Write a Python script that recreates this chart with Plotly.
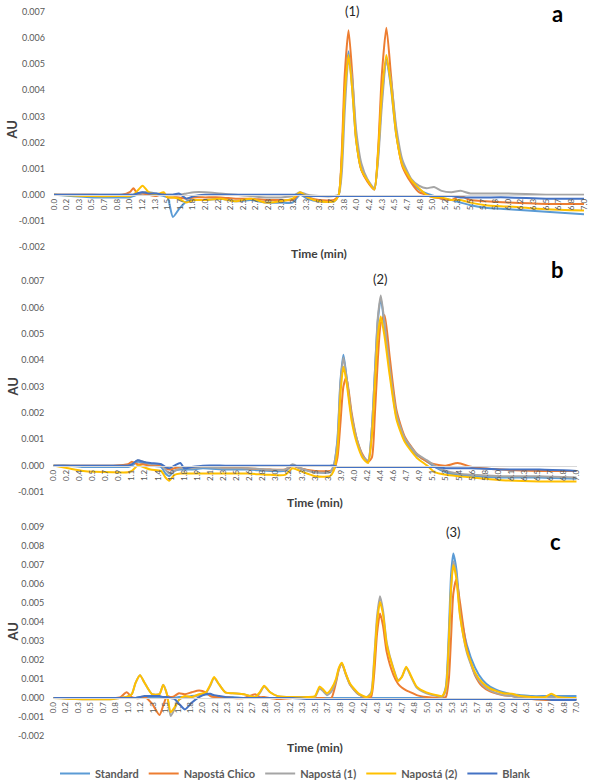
import plotly.graph_objects as go

W, H = 591, 781
FONT = "Lato, 'Open Sans', sans-serif"

series_names = ["Standard", "Napostá Chico", "Napostá (1)", "Napostá (2)", "Blank"]
series_colors = ["#5B9BD5", "#ED7D31", "#A5A5A5", "#FFC000", "#4472C4"]

# ---------------- x tick labels (category labels as printed) ----------------
xtick_labels_ac = ["0.0", "0.2", "0.3", "0.5", "0.7", "0.8", "1.0", "1.2", "1.3", "1.5", "1.7",
                   "1.8", "2.0", "2.2", "2.3", "2.5", "2.7", "2.8", "3.0", "3.2", "3.3", "3.5",
                   "3.7", "3.8", "4.0", "4.2", "4.3", "4.5", "4.7", "4.8", "5.0", "5.2", "5.3",
                   "5.5", "5.7", "5.8", "6.0", "6.2", "6.3", "6.5", "6.7", "6.8", "7.0"]
xtick_labels_b = ["0.0", "0.2", "0.4", "0.5", "0.7", "0.9", "1.1", "1.2", "1.4", "1.6", "1.8",
                  "1.9", "2.1", "2.3", "2.5", "2.6", "2.8", "3.0", "3.2", "3.3", "3.5", "3.7",
                  "3.9", "4.0", "4.2", "4.4", "4.6", "4.7", "4.9", "5.1", "5.3", "5.4", "5.6",
                  "5.8", "6.0", "6.1", "6.3", "6.5", "6.7", "6.8", "7.0"]

# ---------------- y ticks ----------------
ytick_vals_a = [-0.002, -0.001, 0.0, 0.001, 0.002, 0.003, 0.004, 0.005, 0.006, 0.007]
ytick_text_a = ["-0.002", "-0.001", "0.000", "0.001", "0.002", "0.003", "0.004", "0.005", "0.006", "0.007"]
ytick_vals_b = [-0.001, 0.0, 0.001, 0.002, 0.003, 0.004, 0.005, 0.006, 0.007]
ytick_text_b = ["-0.001", "0.000", "0.001", "0.002", "0.003", "0.004", "0.005", "0.006", "0.007"]
ytick_vals_c = [-0.002, -0.001, 0.0, 0.001, 0.002, 0.003, 0.004, 0.005, 0.006, 0.007, 0.008, 0.009]
ytick_text_c = ["-0.002", "-0.001", "0.000", "0.001", "0.002", "0.003", "0.004", "0.005", "0.006",
                "0.007", "0.008", "0.009"]

# ---------------- Panel a data (time in min, absorbance in mAU) ----------------
time_a = [0.0, 0.5, 0.9, 1.0, 1.05, 1.1, 1.17, 1.25, 1.35, 1.45,
          1.5, 1.57, 1.65, 1.75, 1.85, 2.0, 2.2, 2.4, 2.6, 2.8,
          3.0, 3.15, 3.25, 3.35, 3.5, 3.7, 3.76, 3.8, 3.84, 3.89,
          3.94, 3.99, 4.06, 4.14, 4.23, 4.28, 4.33, 4.39, 4.45, 4.52,
          4.6, 4.72, 4.82, 4.92, 5.02, 5.12, 5.25, 5.37, 5.5, 5.7,
          6.0, 6.5, 7.0]
a_standard = [0.0, -0.1, -0.1, -0.1, -0.05, 0.0, 0.05, 0.05, 0.0, -0.05,
              -0.1, -0.85, -0.55, -0.25, -0.2, -0.2, -0.15, -0.25, -0.2, -0.3,
              -0.3, -0.3, 0.0, -0.15, -0.25, -0.25, 0.0, 1.3, 3.9, 5.5,
              4.0, 2.1, 0.95, 0.55, 0.2, 1.5, 3.7, 5.2, 4.1, 2.3,
              1.2, 0.5, 0.2, 0.05, -0.05, -0.15, -0.2, -0.3, -0.4, -0.5,
              -0.55, -0.65, -0.75]
a_chico = [0.0, 0.0, 0.0, 0.1, 0.25, 0.05, 0.05, 0.0, -0.05, 0.05,
           -0.1, -0.1, -0.1, -0.15, -0.1, -0.1, -0.1, -0.15, -0.15, -0.2,
           -0.2, -0.2, 0.05, -0.1, -0.2, -0.2, 0.0, 1.6, 4.6, 6.3,
           4.6, 2.2, 0.95, 0.5, 0.2, 1.7, 4.6, 6.4, 4.6, 2.4,
           1.1, 0.45, 0.1, 0.0, -0.1, -0.15, -0.2, -0.05, -0.2, -0.25,
           -0.3, -0.35, -0.35]
a_n1 = [0.0, 0.0, 0.0, 0.0, 0.0, 0.05, 0.1, 0.1, 0.05, 0.0,
        0.0, 0.0, 0.0, 0.05, 0.1, 0.1, 0.05, 0.0, -0.05, -0.1,
        -0.1, -0.05, 0.1, 0.0, -0.05, -0.05, 0.0, 0.8, 3.2, 5.2,
        4.4, 2.5, 1.2, 0.6, 0.25, 1.3, 3.4, 5.1, 4.4, 2.6,
        1.35, 0.6, 0.35, 0.25, 0.3, 0.15, 0.1, 0.15, 0.05, 0.05,
        0.05, 0.0, 0.0]
a_n2 = [0.0, -0.05, -0.05, -0.05, 0.0, 0.15, 0.35, 0.1, 0.0, 0.1,
        -0.1, -0.1, -0.15, -0.3, -0.2, -0.2, -0.15, -0.25, -0.15, -0.3,
        -0.25, -0.15, 0.1, -0.1, -0.25, -0.25, 0.0, 1.3, 3.9, 5.35,
        4.0, 2.1, 0.95, 0.55, 0.2, 1.6, 3.9, 5.35, 4.2, 2.3,
        1.15, 0.55, 0.25, 0.0, -0.1, -0.1, -0.2, -0.2, -0.3, -0.4,
        -0.45, -0.55, -0.6]
a_blank = [0.0, 0.0, 0.0, 0.0, 0.0, 0.05, 0.1, 0.05, 0.05, 0.0,
           0.0, 0.0, 0.05, -0.15, -0.05, 0.0, 0.0, 0.0, 0.0, 0.0,
           0.0, 0.0, 0.0, -0.05, -0.05, -0.05, -0.05, -0.05, -0.05, -0.05,
           -0.05, -0.05, -0.05, -0.05, -0.05, -0.05, -0.05, -0.05, -0.05, -0.05,
           -0.05, -0.05, -0.05, -0.05, -0.05, -0.05, -0.05, -0.1, -0.1, -0.1,
           -0.1, -0.15, -0.15]

# ---------------- Panel b data ----------------
time_b = [0.0, 0.2, 0.4, 0.8, 1.0, 1.05, 1.13, 1.2, 1.3, 1.44,
          1.5, 1.55, 1.62, 1.7, 1.75, 1.85, 2.0, 2.3, 2.6, 2.9,
          3.1, 3.2, 3.3, 3.5, 3.7, 3.75, 3.8, 3.84, 3.88, 3.92,
          3.99, 4.06, 4.14, 4.21, 4.26, 4.3, 4.34, 4.38, 4.43, 4.5,
          4.59, 4.7, 4.86, 5.0, 5.1, 5.25, 5.41, 5.6, 6.0, 6.5,
          7.0]
b_standard = [0.0, 0.0, -0.05, -0.05, -0.05, 0.0, 0.15, 0.1, 0.0, -0.05,
              -0.3, -0.4, -0.2, -0.15, -0.15, -0.15, -0.1, -0.15, -0.15, -0.2,
              -0.2, 0.0, -0.1, -0.25, -0.25, 0.0, 1.0, 3.2, 4.2, 3.4,
              1.85, 0.95, 0.32, 0.15, 1.4, 3.5, 5.5, 6.35, 5.3, 3.6,
              1.85, 0.95, 0.4, 0.15, -0.05, -0.25, -0.35, -0.4, -0.45, -0.45,
              -0.5]
b_chico = [0.0, 0.0, 0.0, 0.0, 0.05, 0.15, 0.05, 0.05, 0.0, 0.0,
           -0.1, -0.15, -0.1, -0.05, -0.05, -0.05, -0.05, -0.05, -0.1, -0.15,
           -0.15, 0.0, -0.1, -0.2, -0.2, -0.15, 0.3, 1.6, 3.0, 3.35,
           2.0, 1.0, 0.4, 0.15, 0.3, 1.9, 4.0, 5.4, 5.7, 4.1,
           2.1, 1.1, 0.45, 0.15, 0.05, 0.0, 0.1, -0.05, -0.15, -0.2,
           -0.2]
b_n1 = [0.0, 0.0, 0.0, 0.0, 0.0, 0.05, 0.2, 0.15, 0.05, 0.05,
        -0.15, -0.3, -0.2, -0.1, -0.1, -0.1, -0.05, -0.1, -0.1, -0.15,
        -0.15, 0.05, -0.1, -0.25, -0.25, 0.0, 0.9, 3.1, 4.1, 3.4,
        1.9, 1.0, 0.35, 0.2, 1.4, 3.5, 5.6, 6.45, 5.4, 3.7,
        1.95, 1.05, 0.45, 0.2, 0.0, -0.2, -0.3, -0.35, -0.4, -0.4,
        -0.45]
b_n2 = [0.0, -0.1, -0.2, -0.25, -0.25, -0.2, 0.0, -0.05, -0.15, -0.2,
        -0.45, -0.57, -0.35, -0.3, -0.3, -0.3, -0.3, -0.3, -0.3, -0.35,
        -0.35, -0.1, -0.2, -0.4, -0.4, -0.2, 0.6, 2.7, 3.75, 3.2,
        1.7, 0.85, 0.28, 0.1, 1.1, 3.0, 4.9, 5.65, 4.9, 3.4,
        1.75, 0.9, 0.3, 0.0, -0.25, -0.35, -0.4, -0.45, -0.55, -0.6,
        -0.6]
b_blank = [0.0, 0.0, 0.0, 0.0, 0.0, 0.05, 0.2, 0.15, 0.1, 0.05,
           -0.05, -0.1, 0.0, 0.1, -0.1, -0.05, 0.0, 0.0, 0.0, 0.0,
           0.0, 0.0, 0.0, 0.0, 0.0, 0.0, -0.05, -0.05, -0.05, -0.05,
           -0.05, -0.05, -0.05, -0.05, -0.05, -0.05, -0.05, -0.05, -0.05, -0.05,
           -0.05, -0.05, -0.05, -0.05, -0.05, -0.1, -0.1, -0.1, -0.15, -0.15,
           -0.2]

# ---------------- Panel c data ----------------
time_c = [0.0, 0.3, 0.8, 0.9, 0.98, 1.05, 1.1, 1.16, 1.22, 1.32,
          1.42, 1.47, 1.52, 1.57, 1.62, 1.68, 1.76, 1.85, 1.95, 2.04,
          2.1, 2.15, 2.22, 2.3, 2.4, 2.55, 2.7, 2.76, 2.82, 2.9,
          3.0, 3.2, 3.4, 3.5, 3.56, 3.61, 3.66, 3.72, 3.78, 3.82,
          3.86, 3.91, 3.97, 4.08, 4.19, 4.25, 4.29, 4.33, 4.37, 4.41,
          4.46, 4.55, 4.61, 4.66, 4.72, 4.78, 4.86, 4.99, 5.13, 5.2,
          5.25, 5.29, 5.32, 5.35, 5.39, 5.44, 5.53, 5.64, 5.74, 5.84,
          6.02, 6.13, 6.25, 6.4, 6.58, 6.66, 6.75, 6.9, 7.0]
c_standard = [0.0, 0.0, 0.0, 0.0, 0.0, 0.0, 0.0, 0.05, 0.05, 0.05,
              0.05, 0.05, 0.0, 0.0, 0.0, 0.05, 0.05, 0.1, 0.15, 0.2,
              0.15, 0.1, 0.05, 0.05, 0.05, 0.0, 0.0, 0.0, 0.0, 0.0,
              0.0, 0.0, 0.0, 0.0, 0.0, 0.0, 0.0, 0.0, 0.0, 0.0,
              0.0, 0.0, 0.0, 0.0, 0.0, 0.0, 0.0, 0.0, 0.0, 0.0,
              0.0, 0.0, 0.0, 0.0, 0.0, 0.0, 0.0, 0.0, 0.0, 0.05,
              0.6, 3.5, 6.5, 7.6, 6.8, 4.7, 2.8, 1.6, 0.95, 0.6,
              0.3, 0.2, 0.15, 0.1, 0.1, 0.1, 0.1, 0.1, 0.1]
c_chico = [0.0, 0.0, 0.0, 0.05, 0.3, 0.05, 0.0, 0.0, 0.05, -0.3,
           -0.9, -0.4, 0.1, 0.05, 0.1, 0.25, 0.2, 0.3, 0.4, 0.3,
           0.1, 0.05, 0.05, 0.05, 0.0, 0.0, 0.2, 0.05, 0.05, 0.0,
           -0.05, 0.0, 0.0, 0.0, 0.0, 0.0, -0.05, 0.0, 0.8, 1.5,
           1.8, 1.3, 0.7, 0.2, 0.0, 0.05, 1.2, 3.4, 4.45, 3.8,
           2.4, 1.2, 0.75, 0.55, 0.4, 0.3, 0.15, 0.05, 0.0, 0.0,
           0.05, 1.0, 3.2, 5.5, 6.25, 5.0, 2.6, 1.2, 0.6, 0.35,
           0.15, 0.1, 0.0, -0.05, -0.1, -0.1, -0.1, -0.1, -0.05]
c_n1 = [0.0, -0.05, -0.05, 0.0, 0.05, 0.2, 0.8, 1.2, 0.8, 0.2,
        0.2, 0.7, 0.2, -0.95, -0.6, -0.1, 0.05, 0.05, 0.15, 0.25,
        0.65, 1.05, 0.7, 0.3, 0.25, 0.2, 0.05, 0.25, 0.6, 0.3,
        0.1, 0.05, 0.05, 0.05, 0.5, 0.35, 0.15, 0.35, 0.9, 1.55,
        1.8, 1.25, 0.7, 0.2, 0.05, 0.3, 2.0, 4.3, 5.35, 4.6,
        2.9, 1.55, 0.95, 1.1, 1.6, 1.15, 0.55, 0.25, 0.1, 0.05,
        0.4, 2.8, 5.7, 7.2, 6.5, 4.4, 2.4, 1.25, 0.7, 0.4,
        0.15, 0.1, 0.0, -0.05, -0.05, 0.05, -0.05, -0.05, -0.05]
c_n2 = [0.0, -0.05, -0.05, 0.0, 0.05, 0.2, 0.8, 1.2, 0.8, 0.2,
        0.2, 0.68, 0.2, -0.75, -0.5, -0.1, 0.1, 0.05, 0.2, 0.3,
        0.7, 1.1, 0.7, 0.3, 0.25, 0.2, 0.05, 0.3, 0.65, 0.3,
        0.1, 0.05, 0.05, 0.1, 0.6, 0.45, 0.25, 0.5, 1.0, 1.6,
        1.85, 1.3, 0.75, 0.25, 0.05, 0.2, 1.8, 4.0, 5.05, 4.4,
        2.8, 1.5, 0.9, 1.1, 1.65, 1.2, 0.6, 0.3, 0.15, 0.1,
        0.5, 3.0, 5.8, 7.0, 6.3, 4.3, 2.5, 1.35, 0.8, 0.5,
        0.25, 0.22, 0.1, 0.05, 0.05, 0.22, 0.05, 0.0, 0.0]
c_blank = [0.0, 0.0, 0.0, 0.0, 0.0, 0.0, 0.0, 0.05, 0.1, 0.1,
           0.1, 0.05, 0.05, 0.0, -0.05, -0.3, -0.6, -0.25, 0.05, 0.2,
           0.22, 0.15, 0.1, 0.05, 0.0, 0.0, 0.0, 0.0, 0.0, 0.0,
           0.0, 0.0, -0.05, -0.05, -0.05, -0.05, -0.05, -0.05, -0.05, -0.05,
           -0.05, -0.05, -0.05, -0.05, -0.05, -0.05, -0.05, -0.05, -0.05, -0.05,
           -0.05, -0.05, -0.05, -0.05, -0.05, -0.05, -0.05, -0.05, -0.05, -0.05,
           -0.05, -0.05, -0.05, -0.05, -0.05, -0.05, -0.05, -0.05, -0.05, -0.05,
           -0.05, -0.05, -0.05, -0.05, -0.05, -0.1, -0.1, -0.1, -0.1]

panels = [
    dict(time=time_a, series=[a_standard, a_chico, a_n1, a_n2, a_blank],
         yr=[-0.002, 0.007], ytv=ytick_vals_a, ytt=ytick_text_a, xlab=xtick_labels_ac,
         xpx=(54, 584), ypx=(12, 247), peak="(1)", peak_xy=(352, 11), letter="a",
         letter_xy=(557, 13), title_y=253),
    dict(time=time_b, series=[b_standard, b_chico, b_n1, b_n2, b_blank],
         yr=[-0.001, 0.007], ytv=ytick_vals_b, ytt=ytick_text_b, xlab=xtick_labels_b,
         xpx=(53.3, 576.7), ypx=(281, 492), peak="(2)", peak_xy=(380, 279), letter="b",
         letter_xy=(557, 270), title_y=502),
    dict(time=time_c, series=[c_standard, c_chico, c_n1, c_n2, c_blank],
         yr=[-0.002, 0.009], ytv=ytick_vals_c, ytt=ytick_text_c, xlab=xtick_labels_ac,
         xpx=(53.3, 576.7), ypx=(527, 736), peak="(3)", peak_xy=(453, 532), letter="c",
         letter_xy=(555, 541), title_y=747),
]

fig = go.Figure()
annotations = []
layout_axes = {}

for i, p in enumerate(panels):
    n = i + 1
    xa = "x" if n == 1 else f"x{n}"
    ya = "y" if n == 1 else f"y{n}"
    for s_i, vals in enumerate(p["series"]):
        assert len(vals) == len(p["time"]), (i, s_i)
        fig.add_trace(go.Scatter(
            x=p["time"], y=[v * 1e-3 for v in vals], mode="lines",
            name=series_names[s_i], legendgroup=series_names[s_i],
            showlegend=(n == 3),
            line=dict(color=series_colors[s_i], width=2, shape="spline", smoothing=0.6),
            xaxis=xa, yaxis=ya, hoverinfo="skip"))

    xd = [p["xpx"][0] / W, p["xpx"][1] / W]
    yd = [1 - p["ypx"][1] / H, 1 - p["ypx"][0] / H]
    r0, r1 = p["yr"]
    zero_pos = yd[0] + (0 - r0) / (r1 - r0) * (yd[1] - yd[0])
    nt = len(p["xlab"])
    tickvals = [k * 7.0 / (nt - 1) for k in range(nt)]

    layout_axes["xaxis" if n == 1 else f"xaxis{n}"] = dict(
        domain=xd, range=[0, 7], anchor="free", position=zero_pos,
        tickmode="array", tickvals=tickvals, ticktext=p["xlab"], tickangle=-90,
        tickfont=dict(family=FONT, size=8, color="#595959"),
        showgrid=False, zeroline=False, showline=True, linecolor="#D9D9D9", linewidth=1,
        ticks="", fixedrange=True, automargin=False)
    layout_axes["yaxis" if n == 1 else f"yaxis{n}"] = dict(
        domain=yd, range=p["yr"], anchor=xa,
        tickmode="array", tickvals=p["ytv"], ticktext=p["ytt"],
        tickfont=dict(family=FONT, size=9, color="#595959"),
        showgrid=False, zeroline=False, showline=False, ticks="",
        ticklabelstandoff=8, fixedrange=True, automargin=False)

    ymid = (p["ypx"][0] + p["ypx"][1]) / 2
    annotations.append(dict(text="AU", x=12 / W, y=1 - ymid / H, xref="paper", yref="paper",
                            textangle=-90, showarrow=False, xanchor="center", yanchor="middle",
                            font=dict(family=FONT, size=13, color="#404040", weight="bold")))
    xmid = (p["xpx"][0] + p["xpx"][1]) / 2
    annotations.append(dict(text="Time (min)", x=xmid / W, y=1 - p["title_y"] / H,
                            xref="paper", yref="paper", showarrow=False,
                            xanchor="center", yanchor="middle",
                            font=dict(family=FONT, size=12, color="#404040", weight="bold")))
    annotations.append(dict(text=p["peak"], x=p["peak_xy"][0] / W, y=1 - p["peak_xy"][1] / H,
                            xref="paper", yref="paper", showarrow=False,
                            xanchor="center", yanchor="middle",
                            font=dict(family=FONT, size=13, color="#262626")))
    annotations.append(dict(text=p["letter"], x=p["letter_xy"][0] / W, y=1 - p["letter_xy"][1] / H,
                            xref="paper", yref="paper", showarrow=False,
                            xanchor="center", yanchor="middle",
                            font=dict(family=FONT, size=22, color="#000000", weight="bold")))

fig.update_layout(
    width=W, height=H,
    margin=dict(l=0, r=0, t=0, b=0, autoexpand=False),
    paper_bgcolor="white", plot_bgcolor="white",
    showlegend=True,
    legend=dict(orientation="h", x=0.5, xanchor="center", y=1 - 759 / H, yanchor="top",
                font=dict(family=FONT, size=11, color="#595959", weight="bold"),
                itemwidth=30, bgcolor="rgba(0,0,0,0)"),
    annotations=annotations,
    **layout_axes,
)

fig.write_html("out.html", config={"displayModeBar": False},
               post_script="document.body.style.margin='0';document.body.style.overflow='hidden';")
